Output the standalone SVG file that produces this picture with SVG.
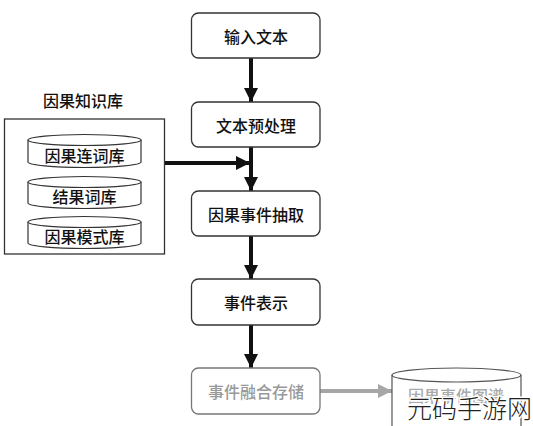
<svg xmlns="http://www.w3.org/2000/svg" width="533" height="426" viewBox="0 0 533 426">
<style>
.box{fill:#fff;stroke:#333;stroke-width:1.3}
.t{font-family:"Noto Sans CJK SC","Noto Sans",sans-serif;font-size:16px;font-weight:500;fill:#111;text-anchor:middle;dominant-baseline:central}
.cyl{fill:#fff;stroke:#333;stroke-width:1.2}
.gray{fill:#999}
.ln{stroke:#111;stroke-width:4;fill:none}
.lg{stroke:#a6a6a6;stroke-width:4;fill:none}
</style>
<defs>
<marker id="ah" viewBox="0 0 14 14" refX="14" refY="7" markerWidth="14" markerHeight="14" markerUnits="userSpaceOnUse" orient="auto">
<path d="M0,0 L14,7 L0,14 Z" fill="#111"/>
</marker>
<marker id="ag" viewBox="0 0 14 14" refX="14" refY="7" markerWidth="14" markerHeight="14" markerUnits="userSpaceOnUse" orient="auto">
<path d="M0,0 L14,7 L0,14 Z" fill="#a6a6a6"/>
</marker>
</defs>
<rect width="533" height="426" fill="#fff"/>
<g id="connectors">
<line class="ln" x1="251" y1="58" x2="251" y2="102" marker-end="url(#ah)"/>
<line class="ln" x1="251" y1="147" x2="251" y2="191" marker-end="url(#ah)"/>
<line class="ln" x1="165" y1="163" x2="250" y2="163" marker-end="url(#ah)"/>
<line class="ln" x1="251" y1="236" x2="251" y2="279" marker-end="url(#ah)"/>
<line class="ln" x1="251" y1="325" x2="251" y2="368" marker-end="url(#ah)"/>
<line class="lg" x1="320" y1="391" x2="392" y2="391" marker-end="url(#ag)"/>
</g>
<g id="n1"><rect class="box" x="191.5" y="13" width="128.5" height="45" rx="7"/><text class="t" x="256" y="35.5">输入文本</text></g>
<g id="n2"><rect class="box" x="191.5" y="102" width="128.5" height="45" rx="7"/><text class="t" x="256" y="124.5">文本预处理</text></g>
<g id="n3"><rect class="box" x="191.5" y="191" width="128.5" height="45" rx="7"/><text class="t" x="256" y="213.5">因果事件抽取</text></g>
<g id="n4"><rect class="box" x="191.5" y="279" width="128.5" height="46" rx="7"/><text class="t" x="256" y="302">事件表示</text></g>
<g id="n5"><rect class="box" x="191.5" y="368" width="128.5" height="46" rx="7" style="stroke:#777"/><text class="t gray" x="256" y="391">事件融合存储</text></g>
<g id="kb">
<text class="t" x="83" y="100">因果知识库</text>
<rect x="4.5" y="119" width="160" height="135" fill="#fff" stroke="#333" stroke-width="1.3"/>
</g>
<g id="c1">
<path class="cyl" d="M28,140 A56.5,5.5 0 0 1 141,140 L141,162 A56.5,5.5 0 0 1 28,162 Z"/>
<path class="cyl" d="M28,140 A56.5,5.5 0 0 0 141,140" fill="none"/>
<text class="t" x="84.5" y="155">因果连词库</text>
</g>
<g id="c2">
<path class="cyl" d="M28,182 A56.5,5.5 0 0 1 141,182 L141,203 A56.5,5.5 0 0 1 28,203 Z"/>
<path class="cyl" d="M28,182 A56.5,5.5 0 0 0 141,182" fill="none"/>
<text class="t" x="84.5" y="196">结果词库</text>
</g>
<g id="c3">
<path class="cyl" d="M28,222 A56.5,5.5 0 0 1 141,222 L141,243 A56.5,5.5 0 0 1 28,243 Z"/>
<path class="cyl" d="M28,222 A56.5,5.5 0 0 0 141,222" fill="none"/>
<text class="t" x="84.5" y="236">因果模式库</text>
</g>
<g id="c4">
<path d="M392,375 A64.5,7 0 0 1 521,375 L521,430 L392,430 Z" fill="#fff" stroke="#555" stroke-width="1.2"/>
<path d="M392,375 A64.5,7 0 0 0 521,375" fill="none" stroke="#555" stroke-width="1.2"/>
<text class="t" x="456" y="395" style="fill:#aaa">因果事件图谱</text>
</g>
<text x="469.5" y="407" style="font-family:'Noto Sans CJK SC',sans-serif;font-size:25px;font-weight:300;fill:#222;stroke:#fff;stroke-width:3;paint-order:stroke;text-anchor:middle;dominant-baseline:central">元码手游网</text>
</svg>
